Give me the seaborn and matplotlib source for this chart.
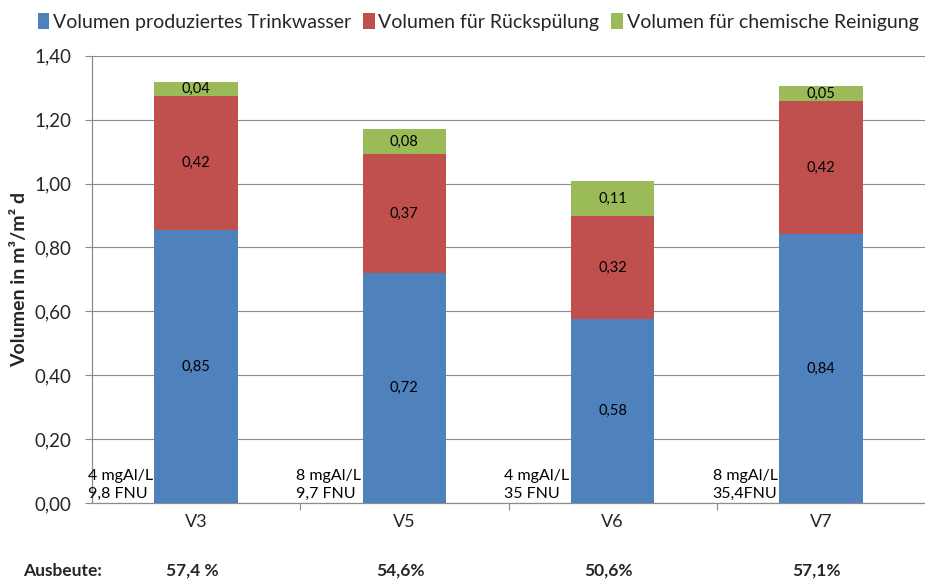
import matplotlib
matplotlib.use("Agg")
import matplotlib.pyplot as plt
import seaborn as sns
import pandas as pd
import numpy as np
from matplotlib.patches import Patch
from matplotlib.ticker import FixedLocator

categories = ["V3", "V5", "V6", "V7"]
trinkwasser = [0.853, 0.719, 0.576, 0.841]
rueckspuelung = [0.421, 0.374, 0.321, 0.417]
chem_reinigung = [0.044, 0.077, 0.112, 0.048]
series_names = ["Volumen produziertes Trinkwasser", "Volumen für Rückspülung", "Volumen für chemische Reinigung"]
conditions = ["4 mgAl/L\n9,8 FNU", "8 mgAl/L\n9,7 FNU", "4 mgAl/L\n35 FNU", "8 mgAl/L\n35,4FNU"]
ausbeute = ["57,4 %", "54,6%", "50,6%", "57,1%"]
yticks = [0.0, 0.2, 0.4, 0.6, 0.8, 1.0, 1.2, 1.4]

colors = ["#4F81BD", "#C0504D", "#9BBB59"]

sns.set_theme(style="white")
plt.rcParams["font.family"] = ["Lato", "DejaVu Sans"]

fig = plt.figure(figsize=(9.25, 5.8), dpi=100)
ax = fig.add_axes([92/925, 77/580, 833/925, 447.3/580])

s1 = np.array(trinkwasser)
s2 = s1 + np.array(rueckspuelung)
s3 = s2 + np.array(chem_reinigung)
df = pd.DataFrame({"cat": categories, "c1": s1, "c2": s2, "c3": s3})

for col, c in zip(["c3", "c2", "c1"], colors[::-1]):
    sns.barplot(data=df, x="cat", y=col, color=c, width=0.4, ax=ax,
                saturation=1, linewidth=0, zorder=3)

# segment labels
bottoms = [np.zeros(4), s1, s2]
for vals, bot in zip([trinkwasser, rueckspuelung, chem_reinigung], bottoms):
    for i, v in enumerate(vals):
        ax.text(i, bot[i] + v / 2, f"{v:.2f}".replace(".", ","), ha="center", va="center",
                fontsize=10.5, color="black", zorder=5)

# condition annotations
for i, t in enumerate(conditions):
    ax.text(i - 0.5 - 0.02, 0.006, t, ha="left", va="bottom", fontsize=11.5,
            linespacing=1.35, color="black", zorder=6)

ax.set_xlim(-0.5, 3.5)
ax.set_ylim(0, 1.4)
ax.yaxis.set_major_locator(FixedLocator(yticks))
ax.set_yticklabels([f"{v:.2f}".replace(".", ",") for v in yticks], fontsize=13.5)
ax.grid(axis="y", color="#8C8C8C", linewidth=0.8, zorder=0)
ax.set_axisbelow(True)

ax.set_xticks(range(4))
ax.set_xticklabels(categories, fontsize=13)
ax.tick_params(axis="x", which="major", length=0, pad=8)
ax.set_xticks([0.5, 1.5, 2.5], minor=True)
ax.tick_params(axis="x", which="minor", length=5, color="#8C8C8C", width=0.8, bottom=True)
ax.tick_params(axis="y", length=5, color="#8C8C8C", width=0.8, left=True, pad=10)

for side in ["top", "right"]:
    ax.spines[side].set_visible(False)
for side in ["left", "bottom"]:
    ax.spines[side].set_color("#8C8C8C")
    ax.spines[side].set_linewidth(0.9)

ax.set_xlabel("")
ax.set_ylabel("Volumen in m³/m² d", fontsize=14, fontweight="bold")
ax.yaxis.set_label_coords((28 - 92) / 833, 0.5)

# Ausbeute row
yrow = (9 - 77) / 447.3
ax.text(23/925, 9/580, "Ausbeute:", transform=fig.transFigure, ha="left", va="center",
        fontsize=12.5, fontweight="bold")
for i, a in enumerate(ausbeute):
    ax.text(i - 0.02, yrow, a, transform=ax.get_xaxis_transform(), ha="center", va="center",
            fontsize=12.5, fontweight="bold", clip_on=False)

handles = [Patch(facecolor=c, edgecolor="none") for c in colors]
fig.legend(handles, series_names, loc="center", bbox_to_anchor=(478/925, 1 - 22/580), ncol=3,
           frameon=False, fontsize=14, handlelength=0.6, handleheight=0.85,
           handletextpad=0.2, columnspacing=0.6, borderaxespad=0)

fig.savefig("out.png", dpi=100)
